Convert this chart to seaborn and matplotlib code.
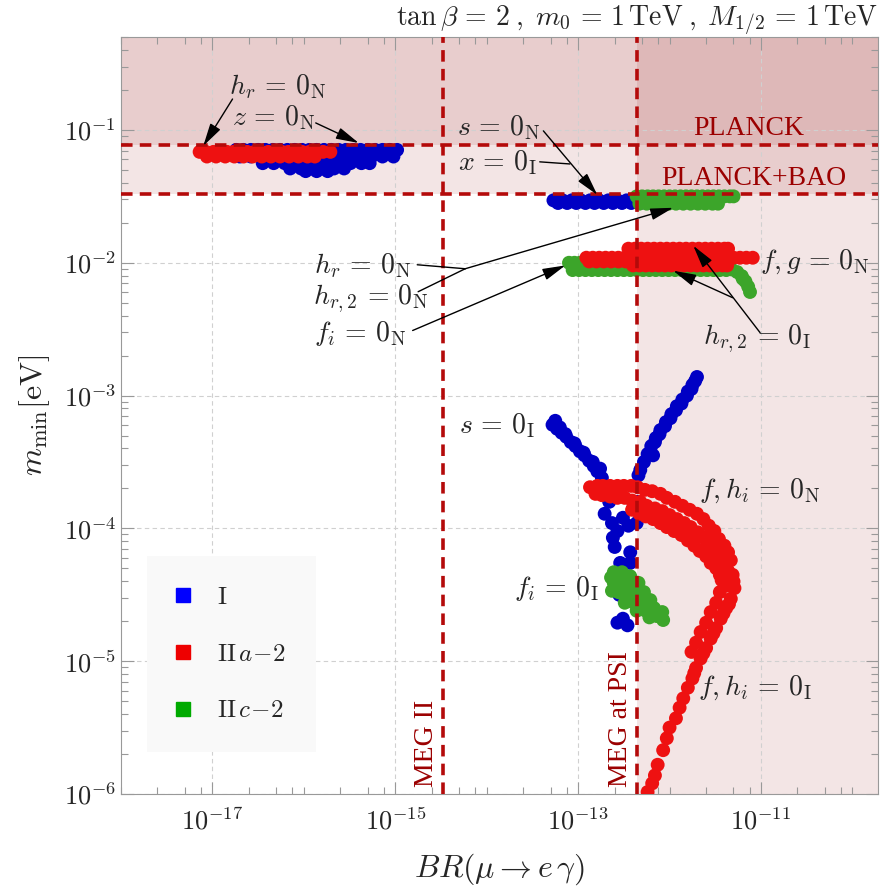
import numpy as np
import pandas as pd
import seaborn as sns
import matplotlib.pyplot as plt
from matplotlib.ticker import FixedLocator, FuncFormatter, LogLocator, NullFormatter
from matplotlib.lines import Line2D

# values, stored as log10(BR) , log10(m_min / eV)

# ---- type I (blue) ----
I_top = {-1.15: [-16.74, -16.66, -16.58, -16.50, -16.42, -16.34, -16.26, -16.18, -16.10, -16.02, -15.94,
                 -15.86, -15.78, -15.70, -15.62, -15.54, -15.46, -15.38, -15.30, -15.22, -15.14, -15.06, -14.98],
         -1.20: [-16.70, -16.58, -16.46, -16.34, -16.22, -16.10, -15.98, -15.86, -15.74, -15.62, -15.50,
                 -15.38, -15.26, -15.14, -15.02],
         -1.25: [-16.45, -16.33, -16.21, -16.09, -15.97, -15.85, -15.73, -15.61, -15.49, -15.37, -15.28],
         -1.29: [-16.15, -16.03, -15.91, -15.79, -15.67, -15.56],
         -1.31: [-15.98, -15.86, -15.74]}
I_sN = {-1.53: [-13.27, -13.17, -13.07, -12.97, -12.87, -12.77, -12.67, -12.57, -12.47, -12.37],
        -1.55: [-13.22, -13.12, -13.02, -12.92, -12.82, -12.72, -12.62, -12.52, -12.42, -12.32]}
I_arm_left = [(-13.28, -3.22), (-13.23, -3.25), (-13.18, -3.28), (-13.13, -3.31), (-13.08, -3.35),
              (-13.03, -3.38), (-12.98, -3.42), (-12.93, -3.45), (-12.88, -3.49), (-12.83, -3.53),
              (-12.79, -3.57), (-12.74, -3.62), (-13.24, -3.23), (-13.14, -3.29), (-13.04, -3.36),
              (-12.94, -3.43), (-12.84, -3.50), (-12.76, -3.55), (-13.25, -3.19), (-13.20, -3.24)]
I_scatter = [(-12.71, -3.89), (-12.63, -3.96), (-12.57, -4.02), (-12.62, -4.07), (-12.60, -4.14),
             (-12.54, -4.26), (-12.43, -4.18), (-12.43, -4.26), (-12.36, -3.96), (-12.45, -3.98),
             (-12.51, -3.92), (-12.57, -4.71), (-12.46, -4.73), (-12.51, -4.68), (-12.66, -3.80),
             (-12.40, -3.85), (-12.35, -3.80), (-12.55, -4.50)]
I_arm_right = [(-12.34, -3.60), (-12.32, -3.56), (-12.28, -3.50), (-12.24, -3.44), (-12.20, -3.38),
               (-12.15, -3.32), (-12.10, -3.26), (-12.04, -3.20), (-11.98, -3.14), (-11.92, -3.08),
               (-11.86, -3.03), (-11.80, -2.97), (-11.75, -2.92), (-11.70, -2.86), (-12.16, -3.35),
               (-12.11, -3.29), (-12.05, -3.23), (-11.99, -3.17), (-11.93, -3.11), (-11.87, -3.06),
               (-11.81, -3.00), (-11.76, -2.95), (-12.18, -3.45), (-11.72, -2.89)]

# ---- type II a-2 (red) ----
IIa_top = {-1.165: [-17.14, -17.07, -16.99, -16.92, -16.84, -16.77, -16.69, -16.62, -16.54, -16.47, -16.39,
                    -16.32, -16.24, -16.17, -16.09, -16.02, -15.94, -15.87, -15.79, -15.71],
           -1.20: [-17.06, -16.96, -16.86, -16.76, -16.66, -16.56, -16.46, -16.36, -16.26, -16.16, -16.06,
                   -15.96, -15.88]}
IIa_mid = {-1.894: [-12.45, -12.38, -12.31, -12.24, -12.17, -12.10, -12.03, -11.96, -11.89, -11.82, -11.75,
                    -11.68, -11.61, -11.54, -11.47, -11.40, -11.36],
           -1.962: [-12.91, -12.84, -12.77, -12.70, -12.63, -12.56, -12.49, -12.42, -12.35, -12.28, -12.21,
                    -12.14, -12.07, -12.00, -11.93, -11.86, -11.79, -11.72, -11.65, -11.58, -11.51, -11.44,
                    -11.37, -11.30, -11.23, -11.16, -11.09],
           -1.99: [-12.88, -12.80, -12.72, -12.64, -12.56, -12.48],
           -2.02: [-12.40, -12.33, -12.26, -12.19, -12.12, -12.05, -11.98, -11.91, -11.84, -11.77, -11.70,
                   -11.63, -11.56, -11.49, -11.42, -11.37]}
IIa_band = [(-12.87, -3.69), (-12.73, -3.68), (-12.57, -3.68), (-12.42, -3.68), (-12.27, -3.71),
            (-12.10, -3.74), (-11.94, -3.80), (-11.78, -3.86), (-11.63, -3.93), (-11.51, -4.02),
            (-11.40, -4.13), (-11.33, -4.24), (-12.79, -3.68), (-12.65, -3.68), (-12.50, -3.68),
            (-12.35, -3.69), (-12.19, -3.72), (-12.03, -3.77), (-11.86, -3.83), (-11.70, -3.89),
            (-11.57, -3.98), (-11.46, -4.08), (-11.36, -4.18),
            (-12.81, -3.74), (-12.65, -3.76), (-12.49, -3.77), (-12.32, -3.80), (-12.16, -3.85),
            (-12.00, -3.90), (-11.84, -3.96), (-11.69, -4.03), (-11.56, -4.11), (-11.45, -4.21),
            (-11.36, -4.32), (-12.74, -3.75), (-12.57, -3.77), (-12.41, -3.79), (-12.25, -3.83),
            (-12.08, -3.87), (-11.92, -3.93), (-11.77, -3.99), (-11.62, -4.07), (-11.50, -4.16),
            (-11.40, -4.26),
            (-12.21, -3.88), (-12.05, -3.93), (-11.89, -3.99), (-11.73, -4.06), (-11.60, -4.14),
            (-11.49, -4.23), (-11.40, -4.32),
            (-12.41, -3.86), (-12.26, -3.91), (-12.10, -3.96), (-11.95, -4.02), (-11.80, -4.09),
            (-11.67, -4.17), (-11.55, -4.26), (-11.45, -4.35), (-11.36, -4.43), (-12.33, -3.89),
            (-12.18, -3.93), (-12.03, -3.99), (-11.87, -4.05), (-11.73, -4.13), (-11.60, -4.21),
            (-11.49, -4.30)]
IIa_tail = [(-11.31, -4.35), (-11.29, -4.45), (-11.33, -4.53), (-11.38, -4.60), (-11.44, -4.68),
            (-11.49, -4.75), (-11.55, -4.83), (-11.60, -4.90), (-11.66, -4.98), (-11.71, -5.05),
            (-11.75, -5.13), (-11.80, -5.20), (-11.85, -5.28), (-11.89, -5.35), (-11.93, -5.43),
            (-12.00, -5.50), (-12.03, -5.58), (-12.07, -5.67), (-12.13, -5.78), (-12.16, -5.86),
            (-12.19, -5.92), (-12.24, -5.985), (-11.43, -4.39), (-11.45, -4.48), (-11.49, -4.56),
            (-11.55, -4.63), (-11.60, -4.71), (-11.66, -4.78), (-11.71, -4.86), (-11.76, -4.93),
            (-11.30, -4.40), (-11.35, -4.57), (-11.41, -4.64), (-11.52, -4.79), (-11.63, -4.94),
            (-11.73, -5.09)]

# ---- type II c-2 (green) ----
IIc_top = {-1.50: [-12.36, -12.30, -12.24, -12.18, -12.12, -12.06, -12.00, -11.94, -11.88, -11.82, -11.76,
                   -11.70, -11.64, -11.58, -11.52, -11.46, -11.40, -11.34, -11.30],
           -1.555: [-12.33, -12.25, -12.17, -12.09, -12.01, -11.93, -11.85, -11.77, -11.69, -11.61, -11.53,
                    -11.47]}
IIc_mid = {-2.00: [-13.10, -13.04, -12.98, -12.92, -12.80, -12.60],
           -2.055: [-13.06, -12.99, -12.92, -12.85, -12.78, -12.71, -12.64, -12.57, -12.50, -12.43, -12.36,
                    -12.29, -12.22, -12.15, -12.08, -12.01, -11.94, -11.87, -11.80, -11.73, -11.66, -11.59,
                    -11.52, -11.45, -11.38]}
IIc_hook = [(-11.32, -2.05), (-11.26, -2.07), (-11.21, -2.10), (-11.17, -2.14), (-11.14, -2.18),
            (-11.12, -2.22), (-11.20, -2.12)]
IIc_low = [(-12.61, -4.33), (-12.52, -4.33), (-12.43, -4.36), (-12.61, -4.41), (-12.52, -4.41),
           (-12.43, -4.43), (-12.34, -4.41), (-12.56, -4.48), (-12.46, -4.49), (-12.37, -4.50),
           (-12.28, -4.48), (-12.49, -4.56), (-12.39, -4.56), (-12.30, -4.56), (-12.21, -4.54),
           (-12.36, -4.62), (-12.26, -4.62), (-12.17, -4.60), (-12.22, -4.67), (-12.14, -4.66),
           (-12.08, -4.63), (-12.07, -4.69), (-12.64, -4.37), (-12.63, -4.47), (-12.57, -4.37),
           (-12.47, -4.45), (-12.41, -4.52), (-12.33, -4.52), (-12.25, -4.58), (-12.19, -4.64)]

point_colors = {'I': '#0000c4', 'IIa-2': '#ee1111', 'IIc-2': '#3ca52a'}
legend_colors = ['#0000ff', '#ee0000', '#00aa00']
legend_labels = [r'$\mathrm{I}$', r'$\mathrm{II}\,a\!-\!2$', r'$\mathrm{II}\,c\!-\!2$']

# experimental bounds
meg2 = 3.35e-15
meg_psi = 4.4e-13
planck = 0.077
planck_bao = 0.033


def rows(d):
    return [(x, y) for y, xs in d.items() for x in xs]


groups = [('I', rows(I_top) + rows(I_sN) + I_arm_left + I_scatter + I_arm_right),
          ('IIc-2', rows(IIc_top) + rows(IIc_mid) + IIc_hook + IIc_low),
          ('IIa-2', rows(IIa_top) + rows(IIa_mid) + IIa_band + IIa_tail)]
frames = []
for name, pts in groups:
    arr = np.array(pts)
    frames.append(pd.DataFrame({'BR': 10 ** arr[:, 0], 'm': 10 ** arr[:, 1], 'model': name}))
df = pd.concat(frames, ignore_index=True)

sns.set_style('ticks')
plt.rcParams['font.family'] = ['DejaVu Serif']
plt.rcParams['mathtext.fontset'] = 'cm'

fig, ax = plt.subplots(figsize=(8.92, 8.92), dpi=100)
fig.subplots_adjust(left=121 / 892, right=878 / 892, bottom=1 - 794 / 892, top=1 - 37 / 892)
ax.set_xscale('log')
ax.set_yscale('log')
ax.set_xlim(1e-18, 10 ** -9.72)
ax.set_ylim(1e-6, 10 ** -0.3)

# excluded regions
shade = '#8b0000'
ax.axhspan(planck_bao, 10, color=shade, alpha=0.1, lw=0, zorder=0)
ax.axhspan(planck, 10, color=shade, alpha=0.1, lw=0, zorder=0)
ax.axvspan(meg_psi, 1e-8, color=shade, alpha=0.1, lw=0, zorder=0)

sns.scatterplot(data=df, x='BR', y='m', hue='model', palette=point_colors, s=100,
                linewidth=0, legend=False, ax=ax, zorder=3)

red = '#b40a0a'
for v in (meg2, meg_psi):
    ax.axvline(v, color=red, lw=2.6, dashes=(3.2, 2.0), zorder=4)
for h in (planck, planck_bao):
    ax.axhline(h, color=red, lw=2.6, dashes=(3.2, 2.0), zorder=4)

txt = dict(color='#9b0000', fontsize=20, family='Liberation Serif')
ax.text(10 ** -11.13, 10 ** -0.99, 'PLANCK', ha='center', va='center', **txt)
ax.text(10 ** -11.08, 10 ** -1.365, 'PLANCK+BAO', ha='center', va='center', **txt)
ax.annotate('MEG II', xy=(meg2, 1e-6), xytext=(-3, 5), textcoords='offset points',
            rotation=90, ha='right', va='bottom', **txt)
ax.annotate('MEG at PSI', xy=(meg_psi, 1e-6), xytext=(-3, 5), textcoords='offset points',
            rotation=90, ha='right', va='bottom', **txt)

# labels and arrows
P = lambda a, b: (10 ** a, 10 ** b)
head = dict(arrowstyle='-|>,head_length=0.7,head_width=0.18', color='k', lw=1.0,
            shrinkA=0, shrinkB=0, mutation_scale=20)
plain = dict(arrowstyle='-', color='k', lw=1.0, shrinkA=0, shrinkB=0)
fs = 20

ax.text(*P(-16.29, -0.677), r'$h_r\,=\,0_{\rm N}$', fontsize=fs, ha='center', va='center')
ax.annotate('', xy=P(-17.10, -1.12), xytext=P(-16.78, -0.767), arrowprops=head, zorder=6)
ax.text(*P(-16.33, -0.91), r'$z\,=\,0_{\rm N}$', fontsize=fs, ha='center', va='center')
ax.annotate('', xy=P(-15.40, -1.098), xytext=P(-15.87, -0.947), arrowprops=head, zorder=6)

ax.text(*P(-13.87, -0.985), r'$s\,=\,0_{\rm N}$', fontsize=fs, ha='center', va='center')
ax.annotate('', xy=P(-12.79, -1.489), xytext=P(-13.38, -1.007), arrowprops=head, zorder=6)
ax.text(*P(-13.885, -1.248), r'$x\,=\,0_{\rm I}$', fontsize=fs, ha='center', va='center')
ax.annotate('', xy=P(-13.09, -1.256), xytext=P(-13.42, -1.24), arrowprops=plain, zorder=6)

ax.text(*P(-15.36, -2.023), r'$h_r\,=\,0_{\rm N}$', fontsize=fs, ha='center', va='center')
ax.annotate('', xy=P(-14.235, -2.045), xytext=P(-14.76, -2.015), arrowprops=plain, zorder=6)
ax.text(*P(-15.27, -2.27), r'$h_{r,2}\,=\,0_{\rm N}$', fontsize=fs, ha='center', va='center')
ax.annotate('', xy=P(-14.235, -2.045), xytext=P(-14.75, -2.218), arrowprops=plain, zorder=6)
ax.annotate('', xy=P(-11.96, -1.586), xytext=P(-14.235, -2.045), arrowprops=head, zorder=6)
ax.text(*P(-15.38, -2.53), r'$f_i\,=\,0_{\rm N}$', fontsize=fs, ha='center', va='center')
ax.annotate('', xy=P(-13.14, -2.02), xytext=P(-14.81, -2.51), arrowprops=head, zorder=6)

ax.text(*P(-10.41, -1.99), r'$f, g\,=\,0_{\rm N}$', fontsize=fs, ha='center', va='center')
ax.text(*P(-11.04, -2.57), r'$h_{r,2}\,=\,0_{\rm I}$', fontsize=fs, ha='center', va='center')
ax.annotate('', xy=P(-11.74, -1.872), xytext=P(-11.01, -2.526), arrowprops=head, zorder=6)
ax.annotate('', xy=P(-11.96, -2.06), xytext=P(-11.31, -2.263), arrowprops=head, zorder=6)

ax.text(*P(-13.885, -3.226), r'$s\,=\,0_{\rm I}$', fontsize=fs, ha='center', va='center')
ax.text(*P(-11.01, -3.714), r'$f, h_i\,=\,0_{\rm N}$', fontsize=fs, ha='center', va='center')
ax.text(*P(-13.24, -4.451), r'$f_i\,=\,0_{\rm I}$', fontsize=fs, ha='center', va='center')
ax.text(*P(-11.07, -5.203), r'$f, h_i\,=\,0_{\rm I}$', fontsize=fs, ha='center', va='center')

# axes styling
ax.xaxis.set_major_locator(FixedLocator([1e-17, 1e-15, 1e-13, 1e-11]))
ax.xaxis.set_minor_locator(FixedLocator([m * 10.0 ** e for e in range(-19, -9) for m in (1, 2.5, 5, 7.5)]))
ax.yaxis.set_major_locator(LogLocator(base=10, numticks=12))
ax.yaxis.set_minor_locator(LogLocator(base=10, subs=np.arange(2, 10), numticks=12))
fmt = FuncFormatter(lambda v, p: r'$10^{%d}$' % int(round(np.log10(v))))
ax.xaxis.set_major_formatter(fmt)
ax.yaxis.set_major_formatter(fmt)
ax.xaxis.set_minor_formatter(NullFormatter())
ax.yaxis.set_minor_formatter(NullFormatter())
ax.tick_params(which='both', direction='in', top=True, right=True, color='#999999', labelsize=19)
ax.tick_params(which='major', length=9, width=0.8)
ax.tick_params(which='minor', length=5, width=0.8)
ax.tick_params(axis='x', pad=10)
for sp in ax.spines.values():
    sp.set_color('#999999')
ax.grid(which='major', color='#d0d0d0', lw=0.8, ls=(0, (4, 3)), zorder=1)
ax.set_axisbelow(True)

ax.set_xlabel(r'$BR(\mu \to e\,\gamma)$', fontsize=23, labelpad=12)
ax.set_ylabel(r'$m_{\rm min} [{\rm eV}]$', fontsize=23, labelpad=8)
fig.text(878 / 892, 1 - 20 / 892,
         r'$\tan\beta\, =\, 2\;,\; m_0\, =\, 1\,\mathrm{TeV}\;,\; M_{1/2}\, =\, 1\,\mathrm{TeV}$',
         ha='right', va='center', fontsize=20)

handles = [Line2D([], [], marker='s', ls='', color=c, markersize=10) for c in legend_colors]
ax.legend(handles, legend_labels, loc='lower left', bbox_to_anchor=(0.034, 0.055), borderaxespad=0,
          frameon=True, fancybox=False, facecolor='#f9f9f9', edgecolor='none', framealpha=1,
          fontsize=18, labelspacing=1.35, borderpad=1.2, handlelength=0.5, handletextpad=1.1)

fig.savefig('out.png', dpi=100)
